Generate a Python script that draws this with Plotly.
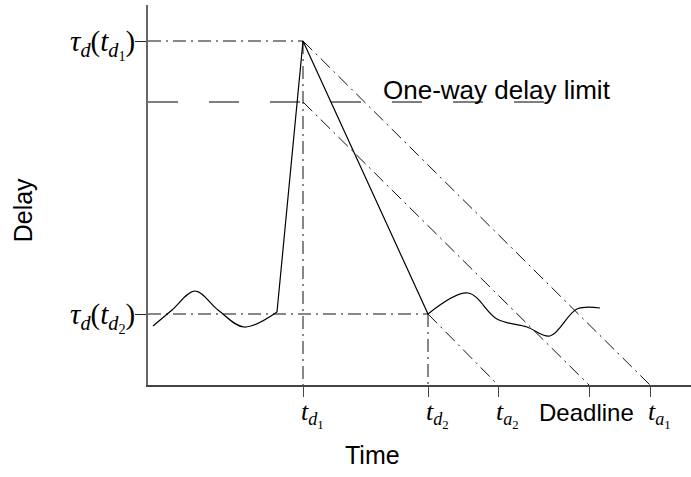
import plotly.graph_objects as go

# ---- key time instants (time units) ----
t_d1 = 155
t_d2 = 280
t_a2 = 350
deadline = 441
t_a1 = 502
limit_end = 397

# ---- key delay levels ----
tau_td1 = 344
tau_td2 = 71
delay_limit = 283

x_ticks = [t_d1, t_d2, t_a2, t_a1]
x_tick_text = [
    "<i>t</i><sub><i>d</i><sub>1</sub></sub>",
    "<i>t</i><sub><i>d</i><sub>2</sub></sub>",
    "<i>t</i><sub><i>a</i><sub>2</sub></sub>",
    "<i>t</i><sub><i>a</i><sub>1</sub></sub>",
]
y_ticks = [tau_td2, tau_td1]
y_tick_text = [
    "<i>τ</i><sub><i>d</i></sub>(<i>t</i><sub><i>d</i><sub>2</sub></sub>)",
    "<i>τ</i><sub><i>d</i></sub>(<i>t</i><sub><i>d</i><sub>1</sub></sub>)",
]

# ---- measured delay curve ----
wave1_t = [5, 24, 47, 70, 96, 129]
wave1_d = [59, 75, 94, 75, 58, 73]
ramp_t = [129, t_d1, t_d2]
ramp_d = [73, tau_td1, tau_td2]
wave2_t = [t_d2, 320, 349, 379, 402, 429, 452]
wave2_d = [tau_td2, 92, 66, 58, 49, 76, 77]

SERIF = "Liberation Serif"
SANS = "Liberation Sans"
DASHDOT = "13px,5px,2px,5px"
INK = "#000000"
GUIDE = "#111111"

fig = go.Figure()

def guide(xs, ys, dash=DASHDOT, color=GUIDE, width=1):
    fig.add_trace(go.Scatter(x=xs, y=ys, mode="lines",
                             line=dict(color=color, width=width, dash=dash),
                             hoverinfo="skip", showlegend=False))

# horizontal / vertical guides
guide([0, t_d1], [tau_td1, tau_td1])
guide([0, t_d2], [tau_td2, tau_td2])
guide([t_d1, t_d1], [tau_td1, 0])
guide([t_d2, t_d2], [tau_td2, 0])
# diagonal deadline lines
guide([t_d1, t_a1], [tau_td1, 0])
guide([t_d1, deadline], [delay_limit, 0])
guide([t_d2, t_a2], [tau_td2, 0])
# one-way delay limit
guide([0, limit_end], [delay_limit, delay_limit], dash="30px,31px", color=INK, width=1.2)

# delay curve
fig.add_trace(go.Scatter(x=wave1_t, y=wave1_d, mode="lines",
                         line=dict(color=INK, width=1.2, shape="spline", smoothing=1.0),
                         hoverinfo="skip", showlegend=False))
fig.add_trace(go.Scatter(x=ramp_t, y=ramp_d, mode="lines",
                         line=dict(color=INK, width=1.2),
                         hoverinfo="skip", showlegend=False))
fig.add_trace(go.Scatter(x=wave2_t, y=wave2_d, mode="lines",
                         line=dict(color=INK, width=1.2, shape="spline", smoothing=1.0),
                         hoverinfo="skip", showlegend=False))

annotations = []
for xv, txt in zip(x_ticks, x_tick_text):
    annotations.append(dict(x=xv, y=0, xref="x", yref="paper", text=txt,
                            showarrow=False, xanchor="left", yanchor="top",
                            xshift=-4, yshift=-10,
                            font=dict(family=SERIF, size=26, color=INK)))
annotations.append(dict(x=deadline, y=0, xref="x", yref="paper", text="Deadline",
                        showarrow=False, xanchor="center", yanchor="top",
                        xshift=-3, yshift=-12,
                        font=dict(family=SANS, size=24, color=INK)))
for yv, txt in zip(y_ticks, y_tick_text):
    annotations.append(dict(x=0, y=yv, xref="paper", yref="y", text=txt,
                            showarrow=False, xanchor="right", yanchor="middle",
                            xshift=-11, yshift=-3,
                            font=dict(family=SERIF, size=29, color=INK)))
annotations.append(dict(x=limit_end - 164, y=delay_limit + 12, xref="x", yref="y",
                        text="One-way delay limit", showarrow=False,
                        xanchor="left", yanchor="middle",
                        font=dict(family=SANS, size=26, color=INK)))
annotations.append(dict(x=0.413, y=-0.185, xref="paper", yref="paper", text="Time",
                        showarrow=False, xanchor="center", yanchor="middle",
                        font=dict(family=SANS, size=25, color=INK)))
annotations.append(dict(x=-0.23, y=0.46, xref="paper", yref="paper", text="Delay",
                        showarrow=False, textangle=-90, xanchor="center", yanchor="middle",
                        font=dict(family=SANS, size=25, color=INK)))

fig.update_layout(
    width=691, height=477,
    margin=dict(l=148, r=0, t=5, b=92),
    paper_bgcolor="white", plot_bgcolor="white",
    showlegend=False,
    annotations=annotations,
    xaxis=dict(range=[0, 543], showgrid=False, zeroline=False,
               showline=True, linecolor="#444444", linewidth=1.5,
               tickmode="array", tickvals=x_ticks + [deadline], ticktext=[""] * 5,
               ticks="outside", ticklen=10, tickcolor="#444444", tickwidth=1,
               showticklabels=False, fixedrange=True),
    yaxis=dict(range=[0, 380], showgrid=False, zeroline=False,
               showline=True, linecolor="#666666", linewidth=2,
               tickmode="array", tickvals=y_ticks, ticktext=["", ""],
               ticks="outside", ticklen=11, tickcolor="#222222", tickwidth=1,
               showticklabels=False, fixedrange=True),
)

fig.write_html("out.html")
